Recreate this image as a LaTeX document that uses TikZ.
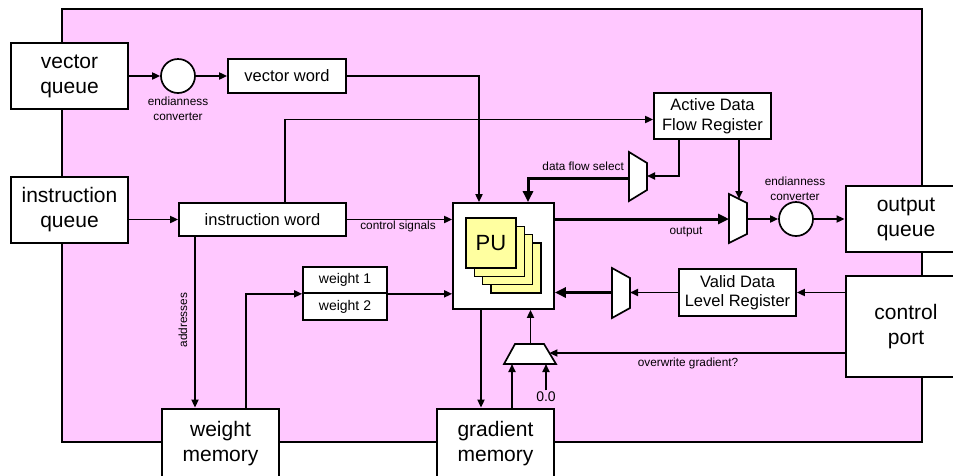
\documentclass[tikz,border=0pt]{standalone}
\usepackage{fontspec}
\setmainfont{Liberation Sans}
\usetikzlibrary{arrows.meta,calc}
\definecolor{bgpink}{HTML}{FFC8FF}
\definecolor{cardyel}{HTML}{FFFFA0}
\tikzset{
  bigbox/.style={draw, line width=2.8pt, fill=white, align=center, font=\fontsize{21}{25}\selectfont, inner sep=0pt},
  regbox/.style={draw, line width=1.7pt, fill=white, align=center, font=\fontsize{16.5}{19.5}\selectfont, inner sep=0pt},
  wbox/.style={draw, line width=1.7pt, fill=white, font=\fontsize{14}{16}\selectfont, inner sep=0pt, minimum width=84pt},
  conv/.style={circle, draw, line width=1.7pt, fill=white, minimum size=34pt, inner sep=0pt},
  card/.style={draw, line width=1.5pt, fill=cardyel, minimum width=50pt, minimum height=50pt, inner sep=0pt},
  arr/.style={line width=1.7pt, -{Triangle[length=8pt,width=7pt]}},
  busarr/.style={line width=3pt, -{Triangle[length=11pt,width=10pt]}},
  small/.style={font=\fontsize{11.8}{14.5}\selectfont, align=center, inner sep=0pt},
  mux/.style={draw, line width=1.7pt, fill=white, line join=miter}
}
\begin{document}
\begin{tikzpicture}[x=1pt,y=-1pt]
\useasboundingbox (0,0) rectangle (953,475);
% background
\draw[fill=bgpink, line width=1.7pt] (62,9) rectangle (922,442);

% big boxes
\node[bigbox, minimum width=117pt, minimum height=66pt] (vq) at (69.5,76) {vector\\queue};
\node[bigbox, minimum width=117pt, minimum height=66pt] (iq) at (69.5,210) {instruction\\queue};
\node[bigbox, minimum width=120pt, minimum height=66pt] (oq) at (906,219) {output\\queue};
\node[bigbox, minimum width=120pt, minimum height=101pt] (cp) at (906,326.5) {control\\port};
\node[bigbox, minimum width=117pt, minimum height=70pt] (wm) at (220.5,444) {weight\\memory};
\node[bigbox, minimum width=117pt, minimum height=70pt] (gm) at (495.5,444) {gradient\\memory};

% converters
\node[conv] (ec1) at (178,76) {};
\node[small] (ec1lbl) at (178,109) {endianness\\converter};
\node[conv] (ec2) at (796,219) {};
\node[small] (ec2lbl) at (795,189) {endianness\\converter};

% registers
\node[regbox, minimum width=118pt, minimum height=34pt] (vw) at (287,76) {vector word};
\node[regbox, minimum width=167pt, minimum height=33pt] (iw) at (262.5,219.5) {instruction word};
\node[regbox, minimum width=117pt, minimum height=46pt] (adfr) at (712.5,116) {Active Data\\Flow Register};
\node[regbox, minimum width=117pt, minimum height=47pt] (vdlr) at (737.5,292.5) {Valid Data\\Level Register};
\node[wbox, minimum height=26pt] (w1) at (345,280) {weight 1};
\node[wbox, minimum height=27pt] (w2) at (345,306.5) {weight 2};

% processing units
\node[draw, line width=1.7pt, fill=white, minimum width=101pt, minimum height=106pt] (pu) at (503.5,256) {};
\node[card] (c4) at (516,268) {};
\node[card] (c3) at (507.7,259.7) {};
\node[card] (c2) at (499.3,251.3) {};
\node[card, font=\fontsize{22}{24}\selectfont] (c1) at (491,243) {PU};

% multiplexers
\draw[mux] (629,152) -- (647,163) -- (647,190) -- (629,201) -- cycle;
\coordinate (m1in) at (647,176);
\coordinate (m1out) at (629,178);
\draw[mux] (729,194) -- (747,203) -- (747,234) -- (729,243) -- cycle;
\coordinate (m2in) at (729,219);
\coordinate (m2out) at (747,219);
\coordinate (m2sel) at (739,199);
\draw[mux] (612,268) -- (630,278) -- (630,308) -- (612,318) -- cycle;
\coordinate (m3in) at (630,292.5);
\coordinate (m3out) at (612,292.5);
\draw[mux] (504,364) -- (556,364) -- (544,344) -- (515,344) -- cycle;
\coordinate (m4out) at (530.5,344);
\coordinate (m4ina) at (512,364);
\coordinate (m4inb) at (546,364);
\coordinate (m4sel) at (549.4,353);

% connectors
\draw[arr] (vq.east) -- (ec1.west);
\draw[arr] (ec1.east) -- (vw.west);
\draw[arr] (vw.east) -| ([xshift=-24.5pt]pu.north);
\draw[arr] (iq.east |- iw.west) -- (iw.west);
\draw[arr] (iw.east) -- (iw.east -| pu.west);
\node[small] (cslbl) at (398,226.5) {control signals};
\draw[arr] ([xshift=22.5pt]iw.north) |- ([yshift=-3.5pt]adfr.west);
\draw[arr] ([xshift=-33.5pt]adfr.south) |- (m1in);
\draw[arr] ([xshift=26.5pt]adfr.south) -- (m2sel);
\draw[busarr] (m1out) -| ([xshift=24.5pt]pu.north);
\node[small, anchor=east] (dfslbl) at (624,166) {data flow select};
\draw[busarr] ([yshift=37pt]pu.east) -- (m2in);
\node[small] (outlbl) at (686,232) {output};
\draw[arr] (m2out) -- (ec2.west);
\draw[arr] (ec2.east) -- (oq.west);
\draw[arr] (cp.west |- vdlr.east) -- (vdlr.east);
\draw[arr] (vdlr.west) -- (m3in);
\draw[busarr] (m3out) -- ([yshift=-36.5pt]pu.east);
\draw[arr] ([xshift=25.5pt]wm.north) |- (w1.south west);
\draw[arr] (w1.south east) -- (w1.south east -| pu.west);
\draw[arr] ([xshift=-67.5pt]iw.south) -- ([xshift=-25.5pt]wm.north);
\node[small, rotate=90] (addrlbl) at (183,320) {addresses};
\draw[arr] ([xshift=-22.5pt]pu.south) -- ([xshift=-14.5pt]gm.north);
\draw[arr] (m4out) -- ([xshift=27pt]pu.south);
\draw[arr] ([xshift=16.5pt]gm.north) -- (m4ina);
\node[font=\fontsize{14}{16}\selectfont, inner sep=1.5pt] (zero) at (546,397) {0.0};
\draw[arr] (zero.north) -- (m4inb);
\draw[arr] (cp.west |- m4sel) -- (m4sel);
\node[small] (owlbl) at (688,363) {overwrite gradient?};
\end{tikzpicture}
\end{document}
